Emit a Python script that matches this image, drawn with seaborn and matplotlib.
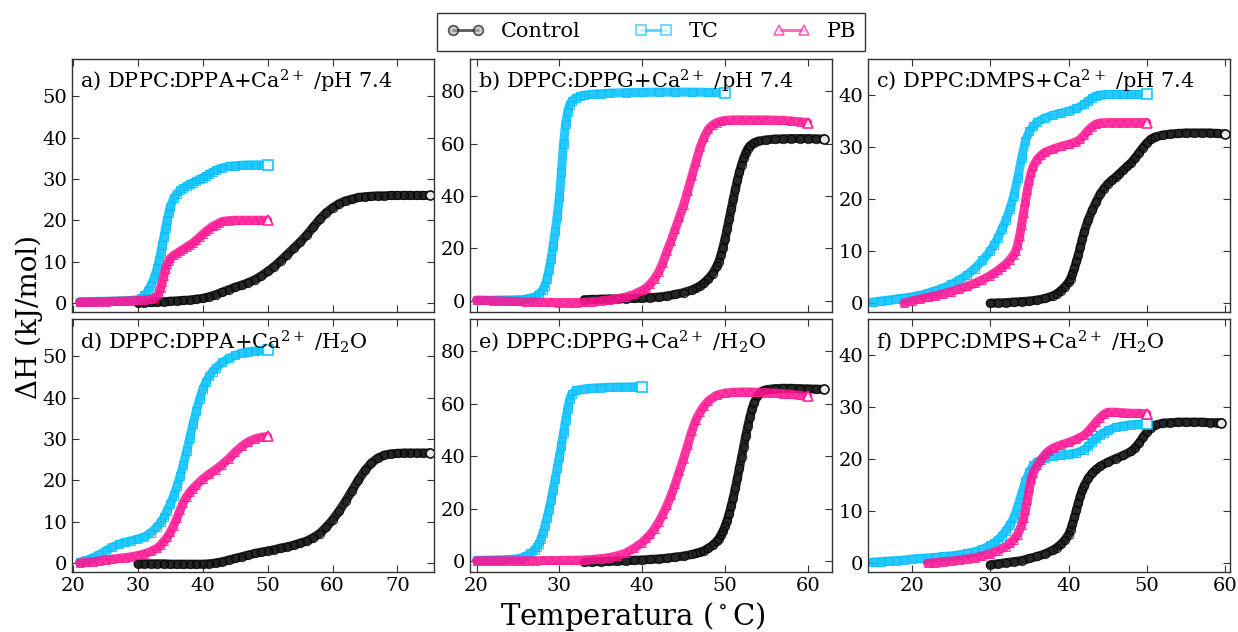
import matplotlib
matplotlib.use("Agg")
import matplotlib.pyplot as plt
from matplotlib.lines import Line2D
import seaborn as sns

# ---------------- data ----------------
# a) DPPC:DPPA + Ca2+ / pH 7.4
ctrl_a_x = [30, 31, 32, 33, 34, 35, 36, 37, 38, 39, 40, 41, 42, 43, 44, 45, 46, 47, 48, 49, 50, 51, 52,
            53, 54, 55, 56, 57, 58, 59, 60, 61, 62, 63, 64, 65, 66, 67, 68, 69, 70, 71, 72, 73, 74, 75]
ctrl_a_y = [0.0, 0.05, 0.1, 0.2, 0.3, 0.4, 0.5, 0.6, 0.7, 0.9, 1.1, 1.5, 2.0, 2.6, 3.2, 3.8, 4.3, 4.9, 5.6,
            6.5, 7.6, 8.8, 10.2, 11.7, 13.2, 14.7, 16.4, 18.3, 20.2, 21.8, 23.0, 24.0, 24.7, 25.1, 25.5,
            25.7, 25.8, 25.9, 25.9, 26.0, 26.0, 26.0, 26.0, 26.0, 26.0, 26.0]
tc_a_x = [21, 22, 23, 24, 25, 26, 27, 28, 29, 30, 30.5, 31, 31.5, 32, 32.5, 33, 33.25, 33.5, 33.75, 34,
          34.25, 34.5, 34.75, 35, 35.5, 36, 36.5, 37, 37.5, 38, 38.5, 39, 39.5, 40, 40.5, 41, 41.5, 42,
          43, 44, 45, 46, 47, 48, 49, 50]
tc_a_y = [0.3, 0.3, 0.3, 0.4, 0.4, 0.4, 0.5, 0.5, 0.6, 0.8, 1.1, 1.8, 2.8, 4.2, 6.0, 8.5, 10.2, 12.0, 14.0,
          16.0, 18.0, 20.0, 21.8, 23.2, 25.3, 26.4, 27.2, 27.8, 28.3, 28.7, 29.1, 29.5, 29.9, 30.3, 30.7,
          31.2, 31.7, 32.1, 32.7, 33.0, 33.2, 33.3, 33.4, 33.4, 33.4, 33.4]
pb_a_x = [21, 22, 23, 24, 25, 26, 27, 28, 29, 30, 31, 32, 32.5, 33, 33.25, 33.5, 33.75, 34, 34.25, 34.5,
          34.75, 35, 35.5, 36, 36.5, 37, 37.5, 38, 38.5, 39, 39.5, 40, 40.5, 41, 41.5, 42, 42.5, 43, 44,
          45, 46, 47, 48, 49, 50]
pb_a_y = [0.2, 0.2, 0.3, 0.3, 0.3, 0.4, 0.4, 0.5, 0.5, 0.6, 0.7, 0.9, 1.2, 1.8, 2.5, 3.6, 5.0, 6.6, 8.2,
          9.4, 10.2, 10.8, 11.5, 12.0, 12.5, 13.0, 13.5, 14.0, 14.5, 15.2, 15.9, 16.6, 17.3, 17.9, 18.5,
          18.9, 19.3, 19.7, 19.9, 20.0, 20.0, 20.0, 20.0, 20.0, 20.0]

# b) DPPC:DPPG + Ca2+ / pH 7.4
ctrl_b_x = [33, 34, 35, 36, 37, 38, 39, 40, 41, 42, 43, 44, 45, 46, 46.5, 47, 47.5, 48, 48.5, 49, 49.25,
            49.5, 49.75, 50, 50.25, 50.5, 50.75, 51, 51.25, 51.5, 51.75, 52, 52.25, 52.5, 52.75, 53, 53.5,
            54, 55, 56, 57, 58, 59, 60, 61, 62]
ctrl_b_y = [0.5, 0.6, 0.7, 0.8, 0.8, 0.9, 1.0, 1.1, 1.3, 1.5, 1.9, 2.5, 3.2, 4.2, 4.9, 5.8, 7.0, 8.5, 10.4,
            13.2, 15.0, 17.4, 20.3, 23.6, 27.3, 31.2, 35.0, 38.8, 42.5, 46.0, 49.2, 52.0, 54.4, 56.4, 58.0,
            59.1, 60.3, 60.9, 61.4, 61.7, 61.8, 61.9, 61.9, 61.9, 61.8, 61.7]
tc_b_x = [20, 21, 22, 23, 24, 25, 26, 26.5, 27, 27.5, 28, 28.25, 28.5, 28.75, 29, 29.25, 29.5, 29.75, 30,
          30.25, 30.5, 30.75, 31, 31.25, 31.5, 32, 32.5, 33, 34, 35, 36, 38, 40, 42, 44, 46, 48, 50]
tc_b_y = [0.3, 0.3, 0.3, 0.4, 0.4, 0.5, 0.7, 1.0, 1.5, 2.5, 4.2, 5.8, 8.2, 11.8, 16.0, 21.0, 26.5, 32.5,
          39.5, 49.0, 60.0, 67.5, 72.0, 74.8, 76.2, 77.4, 78.0, 78.4, 78.8, 79.0, 79.2, 79.4, 79.5, 79.6,
          79.6, 79.6, 79.5, 79.4]
pb_b_x = [20, 21, 22, 23, 24, 25, 26, 27, 28, 29, 30, 31, 32, 33, 34, 35, 36, 37, 38, 39, 40, 40.5, 41,
          41.5, 42, 42.5, 43, 43.5, 44, 44.5, 45, 45.5, 46, 46.5, 47, 47.5, 48, 48.5, 49, 49.5, 50, 51,
          52, 53, 54, 55, 56, 57, 58, 59, 60]
pb_b_y = [0.3, 0.2, 0.1, 0.0, -0.1, -0.2, -0.3, -0.4, -0.5, -0.5, -0.6, -0.6, -0.6, -0.5, -0.3, 0.0, 0.4,
          0.9, 1.5, 2.5, 4.0, 5.0, 6.5, 8.5, 11.0, 14.5, 19.0, 23.0, 27.5, 32.0, 36.5, 42.0, 47.5, 53.0,
          58.5, 62.5, 65.5, 67.0, 68.0, 68.5, 68.8, 69.0, 69.0, 69.0, 69.0, 69.0, 68.9, 68.8, 68.6, 68.3,
          68.0]

# c) DPPC:DMPS + Ca2+ / pH 7.4
ctrl_c_x = [30, 31, 32, 33, 34, 35, 36, 37, 38, 38.5, 39, 39.5, 40, 40.25, 40.5, 40.75, 41, 41.25, 41.5,
            41.75, 42, 42.5, 43, 43.5, 44, 44.5, 45, 45.5, 46, 46.5, 47, 47.5, 48, 48.5, 49, 49.5, 50,
            50.5, 51, 52, 53, 54, 55, 56, 57, 58, 59, 60]
ctrl_c_y = [0.0, 0.05, 0.1, 0.2, 0.3, 0.4, 0.6, 0.9, 1.4, 1.8, 2.4, 3.1, 4.0, 4.7, 5.6, 6.7, 8.0, 9.3,
            10.8, 12.3, 13.7, 16.0, 17.8, 19.4, 20.9, 22.0, 22.9, 23.6, 24.2, 24.9, 25.6, 26.3, 27.0,
            27.9, 28.9, 29.9, 30.8, 31.5, 31.9, 32.3, 32.5, 32.6, 32.7, 32.7, 32.7, 32.7, 32.6, 32.5]
tc_c_x = [15, 16, 17, 18, 19, 20, 21, 22, 23, 24, 25, 26, 27, 28, 29, 30, 30.5, 31, 31.5, 32, 32.5, 33,
          33.5, 34, 34.5, 35, 35.5, 36, 37, 38, 39, 40, 41, 42, 42.5, 43, 43.5, 44, 45, 46, 47, 48, 49, 50]
tc_c_y = [0.2, 0.4, 0.6, 0.8, 1.0, 1.2, 1.5, 1.9, 2.4, 2.9, 3.6, 4.4, 5.4, 6.6, 8.2, 10.0, 11.2, 12.6,
          14.2, 16.0, 18.0, 20.6, 24.0, 27.8, 31.2, 33.0, 34.0, 34.8, 35.6, 36.1, 36.5, 36.9, 37.4, 38.2,
          38.8, 39.4, 39.8, 40.0, 40.1, 40.1, 40.1, 40.1, 40.1, 40.1]
pb_c_x = [19, 20, 21, 22, 23, 24, 25, 26, 27, 28, 29, 30, 30.5, 31, 31.5, 32, 32.5, 33, 33.25, 33.5,
          33.75, 34, 34.25, 34.5, 34.75, 35, 35.25, 35.5, 36, 36.5, 37, 38, 39, 40, 41, 41.5, 42, 42.5,
          43, 43.5, 44, 45, 46, 47, 48, 49, 50]
pb_c_y = [0.0, 0.4, 0.8, 1.1, 1.4, 1.8, 2.2, 2.7, 3.2, 3.8, 4.5, 5.3, 5.8, 6.3, 6.9, 7.5, 8.3, 9.3, 10.0,
          11.2, 12.9, 15.0, 17.3, 19.6, 21.8, 23.7, 25.2, 26.3, 27.6, 28.4, 29.0, 29.6, 30.1, 30.5, 31.0,
          31.5, 32.3, 33.2, 33.9, 34.4, 34.6, 34.7, 34.7, 34.7, 34.7, 34.7, 34.7]

# d) DPPC:DPPA + Ca2+ / H2O
ctrl_d_x = [30, 31, 32, 33, 34, 35, 36, 37, 38, 39, 40, 41, 42, 43, 44, 45, 46, 47, 48, 49, 50, 51, 52,
            53, 54, 55, 56, 57, 58, 59, 60, 61, 62, 63, 64, 65, 66, 67, 68, 69, 70, 71, 72, 73, 74, 75]
ctrl_d_y = [-0.2, -0.2, -0.2, -0.2, -0.2, -0.3, -0.3, -0.3, -0.3, -0.3, -0.3, -0.2, 0.0, 0.3, 0.7, 1.1,
            1.5, 1.9, 2.3, 2.6, 2.9, 3.2, 3.6, 3.9, 4.3, 4.8, 5.3, 6.1, 7.1, 8.6, 10.4, 12.5, 14.9, 17.5,
            20.1, 22.4, 24.2, 25.4, 26.1, 26.4, 26.5, 26.6, 26.6, 26.6, 26.6, 26.6]
tc_d_x = [21, 22, 23, 24, 25, 26, 27, 28, 29, 30, 31, 32, 33, 33.5, 34, 34.5, 35, 35.5, 36, 36.5, 37,
          37.5, 38, 38.5, 39, 39.5, 40, 40.5, 41, 41.5, 42, 43, 44, 45, 46, 47, 48, 49, 50]
tc_d_y = [0.2, 0.6, 1.2, 2.0, 2.9, 3.8, 4.5, 5.0, 5.4, 5.8, 6.3, 7.3, 8.8, 9.8, 11.0, 12.6, 14.3, 16.2,
          18.5, 21.0, 23.8, 27.0, 30.3, 33.6, 36.8, 39.6, 42.0, 43.8, 45.2, 46.3, 47.2, 48.5, 49.5, 50.2,
          50.8, 51.1, 51.3, 51.4, 51.5]
pb_d_x = [21, 22, 23, 24, 25, 26, 27, 28, 29, 30, 31, 32, 33, 33.5, 34, 34.5, 35, 35.5, 36, 36.5, 37,
          37.5, 38, 38.5, 39, 40, 41, 42, 43, 44, 45, 46, 47, 48, 49, 50]
pb_d_y = [0.0, 0.15, 0.3, 0.5, 0.7, 0.9, 1.1, 1.3, 1.5, 1.8, 2.2, 2.8, 3.6, 4.3, 5.2, 6.2, 7.4, 9.0, 10.8,
          12.8, 14.6, 16.0, 17.1, 18.0, 18.8, 20.3, 21.5, 22.6, 23.8, 25.2, 26.8, 28.2, 29.3, 30.0, 30.4,
          30.6]

# e) DPPC:DPPG + Ca2+ / H2O
ctrl_e_x = [33, 34, 35, 36, 37, 38, 39, 40, 41, 42, 43, 44, 45, 46, 46.5, 47, 47.5, 48, 48.5, 49, 49.25,
            49.5, 49.75, 50, 50.25, 50.5, 50.75, 51, 51.25, 51.5, 51.75, 52, 52.25, 52.5, 52.75, 53,
            53.25, 53.5, 54, 54.5, 55, 56, 57, 58, 59, 60, 61, 62]
ctrl_e_y = [-0.4, -0.3, -0.2, -0.1, 0.0, 0.1, 0.3, 0.4, 0.6, 0.8, 1.1, 1.5, 1.9, 2.5, 2.9, 3.4, 4.0, 4.9,
            6.0, 7.5, 8.5, 9.8, 11.3, 13.2, 15.4, 18.0, 21.0, 24.2, 27.8, 31.6, 35.6, 39.6, 43.6, 47.6,
            51.4, 54.8, 57.8, 60.2, 63.4, 64.8, 65.3, 65.7, 65.8, 65.8, 65.7, 65.6, 65.5, 65.4]
tc_e_x = [20, 21, 22, 23, 24, 25, 25.5, 26, 26.5, 27, 27.25, 27.5, 27.75, 28, 28.25, 28.5, 28.75, 29,
          29.25, 29.5, 29.75, 30, 30.25, 30.5, 30.75, 31, 31.25, 31.5, 32, 33, 34, 35, 36, 37, 38, 39, 40]
tc_e_y = [0.3, 0.3, 0.4, 0.5, 0.6, 0.9, 1.3, 2.0, 2.9, 4.2, 5.2, 6.4, 8.2, 10.5, 13.2, 16.2, 19.6, 23.3,
          27.2, 31.2, 35.4, 39.6, 44.0, 48.8, 53.6, 58.0, 61.6, 63.6, 65.0, 65.6, 65.9, 66.1, 66.2, 66.3,
          66.3, 66.4, 66.4]
pb_e_x = [20, 21, 22, 23, 24, 25, 26, 27, 28, 29, 30, 31, 32, 33, 34, 35, 36, 37, 38, 39, 40, 40.5, 41,
          41.5, 42, 42.5, 43, 43.5, 44, 44.5, 45, 45.5, 46, 46.5, 47, 47.5, 48, 49, 50, 51, 52, 53, 54,
          55, 56, 57, 58, 59, 60]
pb_e_y = [0.1, 0.1, 0.1, 0.1, 0.1, 0.1, 0.1, 0.1, 0.2, 0.2, 0.2, 0.3, 0.3, 0.4, 0.6, 0.9, 1.3, 2.0, 3.0,
          4.8, 7.0, 8.6, 10.2, 12.3, 14.8, 17.8, 21.2, 25.0, 29.4, 34.2, 39.0, 44.2, 49.5, 53.8, 56.8,
          59.2, 61.0, 63.2, 64.0, 64.3, 64.4, 64.4, 64.3, 64.2, 64.0, 63.8, 63.5, 63.1, 62.7]

# f) DPPC:DMPS + Ca2+ / H2O
ctrl_f_x = [30, 31, 32, 33, 34, 35, 36, 37, 38, 38.5, 39, 39.5, 40, 40.25, 40.5, 40.75, 41, 41.25, 41.5,
            41.75, 42, 42.5, 43, 43.5, 44, 45, 46, 47, 48, 48.5, 49, 49.5, 50, 50.5, 51, 52, 53, 54, 55,
            56, 57, 58, 59, 59.5]
ctrl_f_y = [-0.3, -0.1, 0.1, 0.3, 0.5, 0.9, 1.3, 1.8, 2.5, 3.0, 3.6, 4.4, 5.5, 6.4, 7.5, 8.8, 10.2, 11.6,
            12.9, 14.0, 14.9, 16.3, 17.3, 18.0, 18.6, 19.4, 20.1, 20.7, 21.5, 22.2, 23.1, 24.2, 25.2,
            26.0, 26.5, 26.9, 27.0, 27.1, 27.1, 27.1, 27.1, 27.0, 27.0, 27.0]
tc_f_x = [15, 16, 17, 18, 19, 20, 21, 22, 23, 24, 25, 26, 27, 28, 29, 30, 30.5, 31, 31.5, 32, 32.5, 33,
          33.5, 34, 34.5, 35, 35.5, 36, 37, 38, 39, 40, 41, 42, 42.5, 43, 43.5, 44, 44.5, 45, 46, 47, 48,
          49, 50]
tc_f_y = [0.2, 0.3, 0.4, 0.5, 0.6, 0.8, 0.9, 1.0, 1.1, 1.3, 1.4, 1.6, 1.9, 2.2, 2.7, 3.4, 3.9, 4.5, 5.3,
          6.2, 7.3, 8.7, 10.8, 13.3, 15.7, 17.6, 18.8, 19.5, 20.2, 20.6, 20.8, 20.9, 21.2, 21.8, 22.5,
          23.3, 24.0, 24.6, 25.1, 25.5, 26.1, 26.4, 26.6, 26.7, 26.8]
pb_f_x = [22, 23, 24, 25, 26, 27, 28, 29, 30, 31, 32, 32.5, 33, 33.5, 34, 34.25, 34.5, 34.75, 35, 35.25,
          35.5, 36, 36.5, 37, 37.5, 38, 39, 40, 41, 42, 42.5, 43, 43.5, 44, 44.5, 45, 46, 47, 48, 49, 50]
pb_f_y = [0.0, 0.1, 0.3, 0.4, 0.6, 0.8, 1.0, 1.4, 1.8, 2.4, 3.2, 3.8, 4.5, 5.5, 7.3, 8.6, 10.2, 12.2,
          14.4, 16.2, 17.4, 18.8, 19.9, 20.9, 21.6, 22.1, 22.7, 23.2, 23.8, 24.6, 25.3, 26.2, 27.1, 27.9,
          28.6, 29.0, 29.0, 28.9, 28.8, 28.8, 28.7]

panel_titles = [
    r"a) DPPC:DPPA+Ca$^{2+}$ /pH 7.4", r"b) DPPC:DPPG+Ca$^{2+}$ /pH 7.4", r"c) DPPC:DMPS+Ca$^{2+}$ /pH 7.4",
    r"d) DPPC:DPPA+Ca$^{2+}$ /H$_2$O", r"e) DPPC:DPPG+Ca$^{2+}$ /H$_2$O", r"f) DPPC:DMPS+Ca$^{2+}$ /H$_2$O",
]
panel_data = [
    [(ctrl_a_x, ctrl_a_y), (tc_a_x, tc_a_y), (pb_a_x, pb_a_y)],
    [(ctrl_b_x, ctrl_b_y), (tc_b_x, tc_b_y), (pb_b_x, pb_b_y)],
    [(ctrl_c_x, ctrl_c_y), (tc_c_x, tc_c_y), (pb_c_x, pb_c_y)],
    [(ctrl_d_x, ctrl_d_y), (tc_d_x, tc_d_y), (pb_d_x, pb_d_y)],
    [(ctrl_e_x, ctrl_e_y), (tc_e_x, tc_e_y), (pb_e_x, pb_e_y)],
    [(ctrl_f_x, ctrl_f_y), (tc_f_x, tc_f_y), (pb_f_x, pb_f_y)],
]
series_names = ["Control", "TC", "PB"]
series_colors = ["black", "#00BFFF", "#FF1493"]
series_markers = ["o", "s", "^"]

col_xlim = [(19.8, 75.6), (19.2, 62.9), (14.4, 60.6)]
col_ylim = [(-2.2, 59.0), (-4.2, 92.2), (-1.7, 46.9)]
col_xticks = [[20, 30, 40, 50, 60, 70], [20, 30, 40, 50, 60], [20, 30, 40, 50, 60]]
col_yticks = [[0, 10, 20, 30, 40, 50], [0, 20, 40, 60, 80], [0, 10, 20, 30, 40]]

# ---------------- style ----------------
sns.set_style("ticks")
plt.rcParams['font.family'] = ['DejaVu Serif']
plt.rcParams['mathtext.fontset'] = 'dejavuserif'
plt.rcParams['text.color'] = 'black'
plt.rcParams['xtick.color'] = 'black'
plt.rcParams['ytick.color'] = 'black'
plt.rcParams['xtick.direction'] = 'in'
plt.rcParams['ytick.direction'] = 'in'
plt.rcParams['xtick.top'] = True
plt.rcParams['ytick.right'] = True

fig, axes = plt.subplots(2, 3, figsize=(12.38, 6.32), dpi=100, sharex='col', sharey='col')
fig.subplots_adjust(left=0.058, right=0.9935, top=0.9066, bottom=0.0949, wspace=0.1, hspace=0.028)

for k, ax in enumerate(axes.flat):
    col = k % 3
    for (x, y), c, m in zip(panel_data[k], series_colors, series_markers):
        assert len(x) == len(y)
        sns.lineplot(x=x, y=y, ax=ax, color=c, linewidth=6.5, alpha=0.85, estimator=None, sort=False,
                     solid_capstyle='round', marker=m, markersize=6, markerfacecolor='none',
                     markeredgecolor=c, markeredgewidth=0.7)
        ax.plot(x[-1], y[-1], marker=m, ms=6.5, mfc='white', mec=c, mew=1.2, ls='none', alpha=0.9)
    ax.set_xlim(col_xlim[col])
    ax.set_ylim(col_ylim[col])
    ax.set_xticks(col_xticks[col])
    ax.set_yticks(col_yticks[col])
    ax.tick_params(labelsize=14, length=5, width=0.8, color='#333333', labelcolor='black')
    for s in ax.spines.values():
        s.set_color('#333333')
        s.set_linewidth(1.0)
    ax.set_xlabel('')
    ax.set_ylabel('')
    ax.text(0.022, 0.965, panel_titles[k], transform=ax.transAxes, fontsize=15, va='top', ha='left',
            color='black')

fig.text(0.024, 0.498, 'ΔH (kJ/mol)', rotation=90, fontsize=20, ha='center', va='center', color='black')
fig.text(0.511, 0.025, r'Temperatura ($^\circ$C)', fontsize=21, ha='center', va='center', color='black')

handles = []
for c, m, fc in zip(series_colors, series_markers, ['#b0b0b0', 'white', 'white']):
    handles.append(Line2D([], [], color=c, lw=2, alpha=0.65, marker=m, ms=7, mfc=fc, mec=c, mew=1.2))
leg = fig.legend(handles, series_names, loc='upper center', bbox_to_anchor=(0.526, 0.996), ncol=3,
                 numpoints=2, fontsize=15, frameon=True, fancybox=False, handlelength=1.8,
                 handletextpad=0.8, columnspacing=2.6, borderpad=0.45)
leg.get_frame().set_edgecolor('black')
leg.get_frame().set_linewidth(1.0)
for t in leg.get_texts():
    t.set_color('black')

fig.savefig('out.png', dpi=100)
